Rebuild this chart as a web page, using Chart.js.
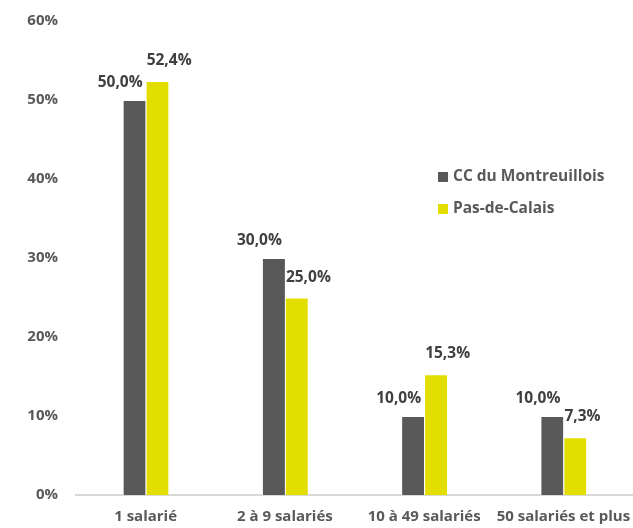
<!DOCTYPE html>
<html>
<head>
<meta charset="utf-8">
<script src="https://cdn.jsdelivr.net/npm/chart.js@4/dist/chart.umd.min.js"></script>
<style>
    html, body { margin: 0; padding: 0; background: #fff; }
    #wrap { position: relative; width: 633px; height: 528px; }
    #legend { position: absolute; left: 438px; top: 164px; font-family: "Open Sans", sans-serif; font-weight: bold; font-size: 15.5px; color: #595959; }
    .item { height: 32px; line-height: 22px; white-space: nowrap; }
    .box { display: inline-block; width: 10px; height: 10px; margin-right: 5px; vertical-align: -1px; }
</style>
</head>
<body>
<div id="wrap">
    <canvas id="chart" width="633" height="528"></canvas>
    <div id="legend"></div>
</div>
<script>
const categories = ['1 salarié', '2 à 9 salariés', '10 à 49 salariés', '50 salariés et plus'];
const seriesNames = ['CC du Montreuillois', 'Pas-de-Calais'];
const montreuilloisValues = [50.0, 30.0, 10.0, 10.0];
const pasDeCalaisValues = [52.4, 25.0, 15.3, 7.3];
const yTicks = [0, 10, 20, 30, 40, 50, 60];
const colors = ['#595959', '#E2DF00'];
const fontFamily = '"Open Sans", sans-serif';

// libellés de valeurs au-dessus des barres
const valueLabels = {
    id: 'valueLabels',
    afterDatasetsDraw(chart) {
        const ctx = chart.ctx;
        ctx.save();
        ctx.font = 'bold 15.5px ' + fontFamily;
        ctx.fillStyle = '#404040';
        ctx.textBaseline = 'alphabetic';
        chart.data.datasets.forEach(function (ds, i) {
            chart.getDatasetMeta(i).data.forEach(function (bar, j) {
                const txt = ds.data[j].toFixed(1).replace('.', ',') + '%';
                const half = bar.width / 2;
                if (i === 0) {
                    ctx.textAlign = 'right';
                    ctx.fillText(txt, bar.x + half - 3, bar.y - 13);
                } else {
                    ctx.textAlign = 'left';
                    ctx.fillText(txt, bar.x - half + 1, bar.y - 16);
                }
            });
        });
        ctx.restore();
    }
};

const ctx = document.getElementById('chart').getContext('2d');
new Chart(ctx, {
    type: 'bar',
    data: {
        labels: categories,
        datasets: [{
            label: seriesNames[0],
            data: montreuilloisValues,
            backgroundColor: colors[0],
            borderColor: '#ffffff',
            borderWidth: { left: 1, right: 0, top: 1, bottom: 0 },
            categoryPercentage: 0.33,
            barPercentage: 1
        }, {
            label: seriesNames[1],
            data: pasDeCalaisValues,
            backgroundColor: colors[1],
            borderColor: '#ffffff',
            borderWidth: { left: 1, right: 0, top: 1, bottom: 0 },
            categoryPercentage: 0.33,
            barPercentage: 1
        }]
    },
    options: {
        responsive: false,
        animation: false,
        layout: { padding: { top: 21, right: 0, left: 26, bottom: 0 } },
        scales: {
            x: {
                grid: { display: false, drawTicks: false },
                border: { display: true, color: '#D9D9D9', width: 2 },
                afterFit: function (scale) {
                    scale.height = 33;
                    scale.paddingLeft = 0;
                    scale.paddingRight = 0;
                },
                ticks: {
                    color: '#595959',
                    font: { family: fontFamily, weight: 'bold', size: 15 },
                    padding: 13,
                    autoSkip: false,
                    maxRotation: 0
                }
            },
            y: {
                min: 0,
                max: 60,
                grid: { display: false, drawTicks: false },
                border: { display: false },
                afterBuildTicks: function (axis) {
                    axis.ticks = yTicks.map(v => ({ value: v }));
                },
                afterFit: function (scale) {
                    scale.width = 50;
                    scale.paddingTop = 0;
                    scale.paddingBottom = 0;
                },
                ticks: {
                    color: '#595959',
                    font: { family: fontFamily, weight: 'bold', size: 15 },
                    padding: 18,
                    callback: function (value) {
                        return value + '%';
                    }
                }
            }
        },
        plugins: {
            legend: { display: false },
            tooltip: { enabled: false }
        }
    },
    plugins: [valueLabels]
});

// légende
const legend = document.getElementById('legend');
seriesNames.forEach(function (name, i) {
    const div = document.createElement('div');
    div.className = 'item';
    div.innerHTML = '<span class="box" style="background:' + colors[i] + '"></span>' + name;
    legend.appendChild(div);
});
</script>
</body>
</html>
